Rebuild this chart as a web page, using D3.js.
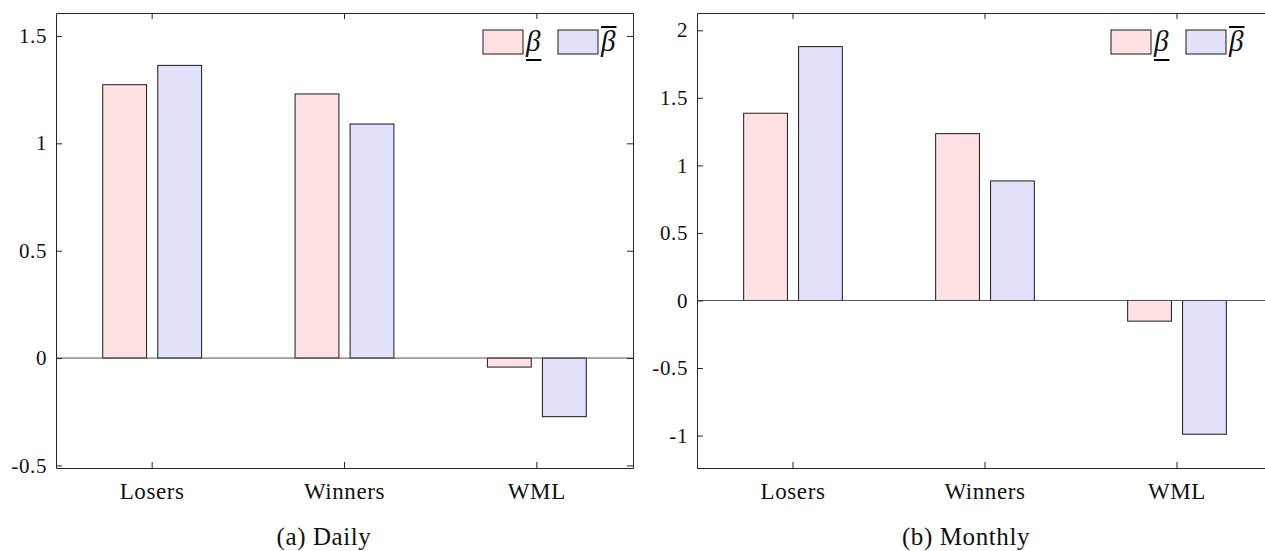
<!DOCTYPE html>
<html>
<head>
<meta charset="utf-8">
<script src="https://cdn.jsdelivr.net/npm/d3@7"></script>
<style>
  body { margin: 0; background: #fff; }
  .lbl { font-family: "Liberation Serif", "Times New Roman", serif; fill: #111; }
</style>
</head>
<body>
<svg id="chart" width="1265" height="551"></svg>
<script>
// data
const categories = ["Losers", "Winners", "WML"];
const seriesKeys = ["lower", "upper"];
const dailyLower = [1.273, 1.230, -0.042];
const dailyUpper = [1.363, 1.090, -0.273];
const monthlyLower = [1.386, 1.235, -0.153];
const monthlyUpper = [1.879, 0.885, -0.990];
const dailyTicks = [-0.5, 0, 0.5, 1, 1.5];
const monthlyTicks = [-1, -0.5, 0, 0.5, 1, 1.5, 2];
const dailyDomain = [-0.512, 1.607];
const monthlyDomain = [-1.24, 2.128];

const fills = { lower: "#ffe1e4", upper: "#e1e1fb" };
const axisColor = "#262626";
const svg = d3.select("#chart");

function drawPanel(opts) {
  const { left, right, top, bottom, lower, upper, ticks, domain, caption, captionX, legendX } = opts;
  const g = svg.append("g");

  const x = d3.scaleBand().domain(categories).range([left, right]);
  const xs = d3.scaleBand().domain(seriesKeys)
    .range([x.bandwidth() * 0.243, x.bandwidth() * 0.757])
    .paddingInner(0.203);
  const y = d3.scaleLinear().domain(domain).range([bottom, top]);

  const rows = categories.map((c, i) => ({ cat: c, lower: lower[i], upper: upper[i] }));

  // bars
  g.selectAll(".grp")
    .data(rows)
    .enter()
    .append("g")
    .attr("transform", d => `translate(${x(d.cat)},0)`)
    .selectAll("rect")
    .data(d => seriesKeys.map(k => ({ key: k, v: d[k] })))
    .enter()
    .append("rect")
    .attr("x", d => xs(d.key))
    .attr("width", xs.bandwidth())
    .attr("y", d => y(Math.max(0, d.v)))
    .attr("height", d => Math.abs(y(d.v) - y(0)))
    .attr("fill", d => fills[d.key])
    .attr("stroke", "#1a1a1a")
    .attr("stroke-width", 1);

  // baseline at zero
  g.append("line")
    .attr("x1", left).attr("x2", right)
    .attr("y1", y(0)).attr("y2", y(0))
    .attr("stroke", "#555").attr("stroke-width", 1);

  // box axes, ticks pointing inwards; labels added below
  const tl = 6;
  g.append("g").attr("transform", `translate(${left},0)`)
    .call(d3.axisLeft(y).tickValues(ticks).tickFormat("").tickSizeInner(-tl).tickSizeOuter(0));
  g.append("g").attr("transform", `translate(${right},0)`)
    .call(d3.axisRight(y).tickValues(ticks).tickFormat("").tickSizeInner(-tl).tickSizeOuter(0));
  g.append("g").attr("transform", `translate(0,${bottom})`)
    .call(d3.axisBottom(x).tickFormat("").tickSizeInner(-tl).tickSizeOuter(0));
  g.append("g").attr("transform", `translate(0,${top})`)
    .call(d3.axisTop(x).tickFormat("").tickSizeInner(-tl).tickSizeOuter(0));
  g.selectAll(".domain, .tick line").attr("stroke", axisColor);

  g.selectAll(".ylbl")
    .data(ticks)
    .enter()
    .append("text")
    .attr("class", "lbl")
    .attr("x", left - 9)
    .attr("y", d => y(d))
    .attr("dy", "0.34em")
    .attr("text-anchor", "end")
    .style("font-size", "21px")
    .style("letter-spacing", "0.6px")
    .text(d => String(d));

  g.selectAll(".xlbl")
    .data(categories)
    .enter()
    .append("text")
    .attr("class", "lbl")
    .attr("x", d => x(d) + x.bandwidth() / 2)
    .attr("y", bottom + 31)
    .attr("text-anchor", "middle")
    .style("font-size", "23px")
    .style("letter-spacing", "0.6px")
    .text(d => d);

  // legend
  const lg = g.append("g").attr("transform", `translate(${legendX},${top + 17})`);
  seriesKeys.forEach((k, i) => {
    const ox = i * 75;
    lg.append("rect")
      .attr("x", ox).attr("y", 0).attr("width", 40).attr("height", 24)
      .attr("fill", fills[k]).attr("stroke", "#1a1a1a").attr("stroke-width", 1);
    const t = lg.append("text")
      .attr("class", "lbl")
      .attr("x", ox + 43).attr("y", 21)
      .style("font-size", "29px").style("font-style", "italic")
      .text("β");
    const w = t.node().getComputedTextLength();
    lg.append("line")
      .attr("x1", ox + 43).attr("x2", ox + 43 + w + 1)
      .attr("y1", k === "lower" ? 30 : -3).attr("y2", k === "lower" ? 30 : -3)
      .attr("stroke", "#000").attr("stroke-width", 2);
  });

  // caption
  g.append("text")
    .attr("class", "lbl")
    .attr("x", captionX).attr("y", 545)
    .attr("text-anchor", "middle")
    .style("font-size", "25px")
    .style("letter-spacing", "0.6px")
    .text(caption);
}

drawPanel({
  left: 56, right: 633, top: 13, bottom: 468,
  lower: dailyLower, upper: dailyUpper,
  ticks: dailyTicks, domain: dailyDomain,
  caption: "(a) Daily", captionX: 324, legendX: 483
});

drawPanel({
  left: 697, right: 1273, top: 13, bottom: 468,
  lower: monthlyLower, upper: monthlyUpper,
  ticks: monthlyTicks, domain: monthlyDomain,
  caption: "(b) Monthly", captionX: 966, legendX: 1111
});
</script>
</body>
</html>
